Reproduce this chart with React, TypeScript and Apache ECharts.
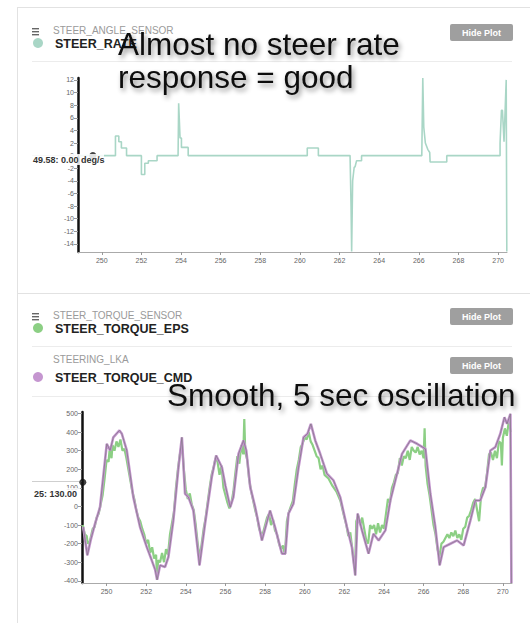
import React, { useEffect, useRef } from "react";
import * as echarts from "echarts";

// ---- axis ticks ----
const timeTicks = [250, 252, 254, 256, 258, 260, 262, 264, 266, 268, 270];
const rateTicks = [-14, -12, -10, -8, -6, -4, -2, 0, 2, 4, 6, 8, 10, 12];
const torqueTicks = [-400, -300, -200, -100, 0, 100, 200, 300, 400, 500];

// ---- STEER_RATE (deg/s) samples [time, value] ----
const steerRate: [number, number][] = [
  [248.85, 0], [250.69, 0], [250.69, 3.1], [250.86, 3.1], [250.86, 2.2], [250.99, 2.2],
  [250.99, 1.2], [251.25, 1.2], [251.25, 0], [252.0, 0], [252.0, -3.0], [252.17, -3.0],
  [252.17, -1.2], [252.35, -1.2], [252.35, -0.8], [252.79, -0.8], [252.79, 0],
  [253.85, 0], [253.88, 8.3], [253.95, 2.8], [254.02, 2.8], [254.02, 1.3], [254.36, 1.3],
  [254.36, 0], [260.37, 0], [260.37, 1.2], [260.93, 1.2], [260.93, 0],
  [262.53, 0], [262.58, -8.0], [262.61, -15.2], [262.66, -4.0], [262.74, -1.8],
  [262.78, -1.8], [262.86, -0.8], [263.11, -0.8], [263.11, 0],
  [266.15, 0], [266.2, 12.3], [266.25, 4.5], [266.33, 2.0], [266.45, 1.0], [266.55, 0.5],
  [266.57, -1.0], [267.41, -1.0], [267.41, 0],
  [270.1, 0], [270.1, 2.0], [270.17, 7.2], [270.22, 7.2], [270.3, 2.2], [270.41, 12.0],
  [270.44, -15.2],
];
const rateCursor: [number, number] = [249.55, 0];

// ---- STEER_TORQUE_EPS samples [time, value] ----
const torqueEps: [number, number][] = [
  [248.8, -100], [248.9, -150], [249.0, -160], [249.05, -200], [249.15, -190], [249.3, -120],
  [249.4, -110], [249.5, -60], [249.6, -40], [249.7, 10], [249.8, 60], [249.9, 150],
  [250.0, 250], [250.1, 240], [250.15, 300], [250.25, 260], [250.3, 330], [250.4, 300],
  [250.5, 350], [250.6, 320], [250.7, 360], [250.8, 300], [250.9, 310], [251.0, 260],
  [251.1, 200], [251.2, 140], [251.3, 80], [251.4, 40], [251.5, -20], [251.6, -60],
  [251.7, -80], [251.8, -120], [251.9, -150], [252.0, -200], [252.1, -180], [252.2, -250],
  [252.3, -220], [252.4, -280], [252.5, -260], [252.55, -390], [252.6, -290], [252.7, -300],
  [252.8, -250], [252.9, -300], [253.0, -230], [253.1, -260], [253.2, -150], [253.3, -90],
  [253.4, -30], [253.5, 100], [253.6, 200], [253.7, 280], [253.8, 340], [253.9, 200],
  [254.0, 90], [254.1, 40], [254.2, 70], [254.3, 10], [254.4, -20], [254.5, -100],
  [254.6, -200], [254.7, -280], [254.8, -200], [254.9, -120], [255.0, -60], [255.1, 20],
  [255.2, 100], [255.3, 170], [255.4, 210], [255.5, 260], [255.6, 240], [255.7, 170],
  [255.8, 220], [255.9, 100], [256.0, 60], [256.1, 20], [256.2, -10], [256.3, 20],
  [256.4, 80], [256.5, 180], [256.6, 270], [256.7, 230], [256.8, 330], [256.9, 280],
  [256.95, 470], [257.0, 290], [257.1, 250], [257.2, 140], [257.3, 80], [257.4, 30],
  [257.5, -20], [257.6, -60], [257.7, -120], [257.8, -150], [257.9, -140], [258.0, -100],
  [258.1, -60], [258.2, -40], [258.3, -100], [258.4, -70], [258.5, -130], [258.6, -150],
  [258.7, -200], [258.8, -230], [258.9, -210], [259.0, -260], [259.1, -80], [259.2, -30],
  [259.3, 0], [259.4, 30], [259.5, 120], [259.6, 200], [259.7, 250], [259.8, 320],
  [259.9, 340], [260.0, 370], [260.1, 360], [260.2, 400], [260.3, 350], [260.4, 330],
  [260.5, 300], [260.6, 270], [260.7, 260], [260.8, 200], [260.9, 220], [261.0, 170],
  [261.2, 150], [261.4, 110], [261.6, 80], [261.8, 30], [262.0, -60], [262.1, -100],
  [262.2, -160], [262.3, -140], [262.4, -230], [262.5, -320], [262.55, -300], [262.6, -80],
  [262.7, -50], [262.8, -100], [262.9, -60], [263.0, -120], [263.1, -180], [263.2, -200],
  [263.3, -100], [263.4, -120], [263.5, -100], [263.6, -150], [263.7, -90], [263.8, -140],
  [263.9, -100], [264.0, -120], [264.1, -40], [264.2, 40], [264.3, 20], [264.4, 100],
  [264.5, 130], [264.6, 170], [264.7, 180], [264.8, 260], [264.9, 220], [265.0, 270],
  [265.1, 260], [265.2, 300], [265.3, 250], [265.4, 320], [265.5, 300], [265.6, 290],
  [265.7, 320], [265.8, 280], [265.9, 300], [266.0, 260], [266.05, 420], [266.1, 220],
  [266.2, 120], [266.3, 60], [266.4, -20], [266.5, -100], [266.6, -150], [266.7, -230],
  [266.8, -270], [266.9, -200], [267.0, -190], [267.1, -170], [267.2, -150], [267.3, -170],
  [267.4, -140], [267.5, -160], [267.6, -130], [267.7, -170], [267.8, -150], [267.9, -180],
  [268.0, -120], [268.1, -110], [268.2, -60], [268.3, -50], [268.4, -20], [268.5, 20],
  [268.6, 40], [268.7, -20], [268.8, -80], [268.9, 60], [269.0, 100], [269.1, 100],
  [269.2, 180], [269.3, 280], [269.4, 290], [269.5, 250], [269.6, 300], [269.7, 260],
  [269.8, 350], [269.9, 340], [269.95, 220], [270.0, 370], [270.1, 420], [270.2, 380],
  [270.3, 460], [270.4, 400],
];

// ---- STEER_TORQUE_CMD samples [time, value] ----
const torqueCmd: [number, number][] = [
  [248.82, -110], [249.03, -263], [249.2, -180], [249.42, -93], [249.67, -4], [250.01, 337],
  [250.18, 301], [250.34, 372], [250.65, 409], [250.77, 391], [251.02, 301], [251.35, 50],
  [251.69, -111], [252.03, -219], [252.28, -290], [252.45, -340], [252.55, -395], [252.7, -317],
  [252.95, -326], [253.12, -272], [253.37, -75], [253.63, 211], [253.8, 372], [253.96, 68],
  [254.13, 50], [254.38, -22], [254.69, -317], [254.97, -93], [255.31, 158], [255.53, 274],
  [255.82, 211], [256.0, 110], [256.24, -4], [256.4, 50], [256.66, 283], [256.91, 355],
  [257.05, 301], [257.25, 104], [257.5, -4], [257.84, -183], [258.25, -22], [258.5, -111],
  [258.85, -254], [259.02, -254], [259.18, -39], [259.43, 15], [259.69, 211], [259.94, 372],
  [260.14, 391], [260.31, 444], [260.53, 355], [260.78, 283], [261.12, 176], [261.45, 140],
  [261.79, 50], [262.13, -111], [262.38, -219], [262.55, -371], [262.67, -39], [262.89, -129],
  [263.22, -254], [263.47, -147], [263.73, -183], [264.07, -129], [264.32, 32], [264.66, 176],
  [264.91, 283], [265.33, 355], [265.67, 337], [266.09, 310], [266.34, 68], [266.59, -111],
  [266.81, -317], [267.01, -219], [267.35, -201], [267.69, -183], [268.02, -210], [268.36, -75],
  [268.61, 32], [268.86, 32], [269.12, 104], [269.37, 301], [269.62, 319], [269.87, 391],
  [270.08, 480], [270.21, 444], [270.38, 498], [270.43, -412],
];
const torqueCursor: [number, number] = [248.8, 130];

const FONT = "'Liberation Sans', Arial, sans-serif";
const TEAL = "#a9d6c6";
const GREEN = "#8ccf84";
const PURPLE = "#c596d0";

function txt(x: number, y: number, text: string, size: number, color: string, weight: string = "normal", align: string = "left", extra: any = {}) {
  return {
    type: "text",
    x,
    y,
    z: 10,
    style: {
      text,
      fill: color,
      fontSize: size,
      fontWeight: weight,
      fontFamily: FONT,
      align,
      verticalAlign: "middle",
      ...extra,
    },
  };
}
function hline(x1: number, x2: number, y: number, color: string) {
  return { type: "line", z: 1, shape: { x1, y1: y, x2, y2: y }, style: { stroke: color, lineWidth: 1 } };
}
function button(x: number, y: number) {
  return [
    { type: "rect", z: 5, shape: { x, y, width: 63, height: 17, r: 2 }, style: { fill: "#9f9f9f" } },
    txt(x + 31.5, y + 8.5, "Hide Plot", 9, "#ffffff", "bold", "center"),
  ];
}
function burger(x: number, y: number) {
  return [0, 3, 6].map((d) => ({
    type: "rect",
    z: 5,
    shape: { x, y: y + d, width: 7, height: 1.4 },
    style: { fill: "#666" },
  }));
}
const shadow = {
  textShadowColor: "rgba(0,0,0,0.45)",
  textShadowBlur: 5,
  textShadowOffsetX: 2,
  textShadowOffsetY: 3,
};

function axisCommon(ticks: number[]) {
  return {
    axisLabel: { customValues: ticks, fontSize: 7, color: "#666", fontFamily: FONT },
    axisTick: { customValues: ticks, length: 4, lineStyle: { color: "#999" } },
    splitLine: { show: false },
  };
}

export default function App() {
  const ref = useRef<HTMLDivElement>(null);
  useEffect(() => {
    if (!ref.current) return;
    const chart = echarts.init(ref.current, undefined, { renderer: "svg" });
    const common = axisCommon(timeTicks);
    const xCommon = {
      axisLine: { onZero: false, lineStyle: { color: "#aaa" } },
      ...common,
      axisLabel: { ...common.axisLabel, margin: 5 },
      axisTick: { ...common.axisTick, length: 3 },
    };
    const option: any = {
      animation: false,
      backgroundColor: "#ffffff",
      grid: [
        { left: 78, top: 78, width: 429, height: 174 },
        { left: 82, top: 412, width: 430, height: 171 },
      ],
      xAxis: [
        { type: "value", gridIndex: 0, min: 248.8, max: 270.45, ...xCommon },
        { type: "value", gridIndex: 1, min: 248.76, max: 270.46, ...xCommon },
      ],
      yAxis: [
        {
          type: "value", gridIndex: 0, min: -15.27, max: 12.3,
          axisLine: { show: true, onZero: false, lineStyle: { color: "#111", width: 2.5 } },
          ...axisCommon(rateTicks),
          axisLabel: { ...axisCommon(rateTicks).axisLabel, margin: 4 },
        },
        {
          type: "value", gridIndex: 1, min: -412, max: 508,
          axisLine: { show: true, onZero: false, lineStyle: { color: "#111", width: 2.5 } },
          ...axisCommon(torqueTicks),
          axisLabel: { ...axisCommon(torqueTicks).axisLabel, margin: 4 },
        },
      ],
      series: [
        {
          type: "line", xAxisIndex: 0, yAxisIndex: 0, data: steerRate, showSymbol: false,
          lineStyle: { color: TEAL, width: 1.6 }, itemStyle: { color: TEAL }, z: 2,
        },
        {
          type: "scatter", xAxisIndex: 0, yAxisIndex: 0, data: [rateCursor], symbolSize: 7,
          itemStyle: { color: "#111" }, z: 5,
        },
        {
          type: "line", xAxisIndex: 1, yAxisIndex: 1, data: torqueEps, showSymbol: false,
          lineStyle: { color: GREEN, width: 2.2 }, itemStyle: { color: GREEN }, z: 2,
        },
        {
          type: "line", xAxisIndex: 1, yAxisIndex: 1, data: torqueCmd, showSymbol: false,
          lineStyle: { color: PURPLE, width: 2.6 }, itemStyle: { color: PURPLE }, z: 3,
        },
        {
          type: "line", xAxisIndex: 1, yAxisIndex: 1, data: torqueCmd, showSymbol: false,
          lineStyle: { color: "#857a88", width: 0.8 }, itemStyle: { color: "#857a88" }, z: 4,
        },
        {
          type: "scatter", xAxisIndex: 1, yAxisIndex: 1, data: [torqueCursor], symbolSize: 7,
          itemStyle: { color: "#111" }, z: 5,
        },
      ],
      graphic: [
        hline(17, 530, 7.5, "#e2e2e2"),
        { type: "line", z: 1, shape: { x1: 17.5, y1: 7, x2: 17.5, y2: 623 }, style: { stroke: "#e2e2e2", lineWidth: 1 } },
        hline(17, 530, 293.5, "#e2e2e2"),
        hline(32, 512, 61.5, "#ececec"),
        hline(32, 512, 346.5, "#ececec"),
        hline(32, 512, 396.5, "#ececec"),
        ...burger(32, 28),
        ...burger(32, 313),
        { type: "circle", z: 5, shape: { cx: 38, cy: 43, r: 5 }, style: { fill: TEAL } },
        { type: "circle", z: 5, shape: { cx: 38, cy: 328, r: 5 }, style: { fill: GREEN } },
        { type: "circle", z: 5, shape: { cx: 38, cy: 377, r: 5 }, style: { fill: PURPLE } },
        txt(53, 30, "STEER_ANGLE_SENSOR", 10, "#9a9a9a"),
        txt(55, 44, "STEER_RATE", 12.5, "#222", "bold"),
        txt(53, 315, "STEER_TORQUE_SENSOR", 10, "#9a9a9a"),
        txt(55, 329, "STEER_TORQUE_EPS", 12.5, "#222", "bold"),
        txt(53, 359, "STEERING_LKA", 10, "#9a9a9a"),
        txt(55, 378, "STEER_TORQUE_CMD", 12.5, "#222", "bold"),
        ...button(450, 24),
        ...button(450, 308),
        ...button(450, 357),
        // crosshair (top)
        hline(32, 78, 155.5, "#cfcfcf"),
        { type: "rect", z: 8, shape: { x: 32, y: 154, width: 72, height: 11 }, style: { fill: "rgba(255,255,255,0.85)" } },
        txt(33, 160, "49.58: 0.00 deg/s", 9, "#333", "bold"),
        // crosshair (bottom)
        hline(32, 82, 481.5, "#cfcfcf"),
        { type: "rect", z: 8, shape: { x: 32, y: 488, width: 48, height: 12 }, style: { fill: "rgba(255,255,255,0.8)" } },
        txt(34, 494, "25: 130.00", 9, "#333", "bold"),
        // annotations
        txt(118, 44, "Almost no steer rate", 31.5, "#111", "normal", "left", shadow),
        txt(118, 77, "response = good", 31.5, "#111", "normal", "left", shadow),
        txt(167, 395, "Smooth, 5 sec oscillation", 31.5, "#111", "normal", "left", shadow),
      ],
    };
    chart.setOption(option);
    return () => chart.dispose();
  }, []);
  return (
    <div
      ref={ref}
      style={{ position: "fixed", left: 0, top: 0, width: 530, height: 623, background: "#fff" }}
    />
  );
}
